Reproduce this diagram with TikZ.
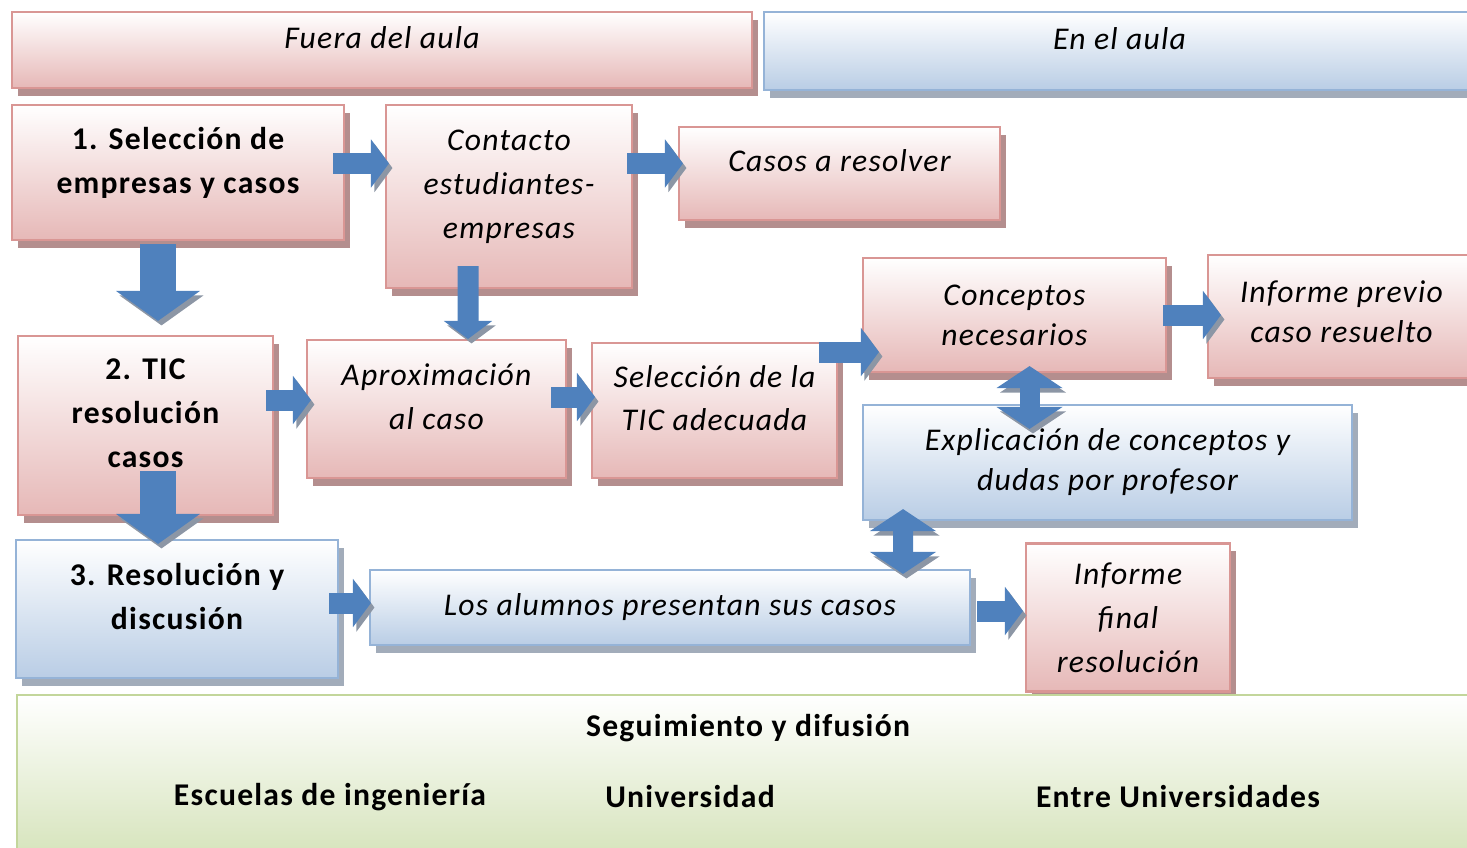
\documentclass[tikz,border=0pt]{standalone}
\usepackage{fontspec}
\setmainfont{Carlito}[LetterSpace=4]
\usetikzlibrary{arrows.meta,shadows}
\definecolor{rojoborde}{RGB}{217,150,148}
\definecolor{rojofondo}{RGB}{230,184,183}
\definecolor{rojosombra}{RGB}{180,142,142}
\definecolor{azulborde}{RGB}{149,179,215}
\definecolor{azulfondo}{RGB}{185,205,229}
\definecolor{azulsombra}{RGB}{162,172,186}
\definecolor{verdeborde}{RGB}{195,214,155}
\definecolor{verdefondo}{RGB}{213,227,186}
\definecolor{flechaazul}{RGB}{79,129,189}
\definecolor{flechasombra}{RGB}{140,150,165}
\tikzstyle{caja} = [rectangle, align=center, line width=1.2pt, inner sep=2pt, font=\fontsize{18}{25}\selectfont\itshape]
\tikzstyle{rosa} = [caja, draw=rojoborde, top color=white, bottom color=rojofondo, drop shadow={shadow xshift=0.12cm, shadow yshift=-0.15cm, fill=rojosombra, opacity=1}]
\tikzstyle{azul} = [caja, draw=azulborde, top color=white, bottom color=azulfondo, drop shadow={shadow xshift=0.12cm, shadow yshift=-0.15cm, fill=azulsombra, opacity=1}]
\tikzstyle{negrita} = [font=\fontsize{18}{25}\selectfont\bfseries]
\tikzstyle{junto} = [font=\fontsize{18}{22.7}\selectfont\itshape]
\tikzstyle{arriba} = [text depth=0.5cm]
\tikzstyle{sombra} = [preaction={draw=flechasombra, transform canvas={shift={(0.07cm,-0.09cm)}}}]
\tikzstyle{flecha} = [flechaazul, sombra, line width=0.42cm, -{Triangle[width=0.95cm,length=0.36cm]}]
\tikzstyle{flechagrande} = [flechaazul, sombra, line width=0.72cm, -{Triangle[width=1.65cm,length=0.6cm]}]
\tikzstyle{flechadoble} = [flechaazul, sombra, line width=0.4cm, {Triangle[width=1.3cm,length=0.44cm]}-{Triangle[width=1.3cm,length=0.44cm]}]
\begin{document}
\begin{tikzpicture}
	\useasboundingbox (0,0) rectangle (29.34,-16.94);
	% cabeceras
	\node[rosa, arriba, minimum width=14.8cm, minimum height=1.52cm] (fuera) at (7.64,-1.0) {Fuera del aula};
	\node[azul, arriba, minimum width=14.22cm, minimum height=1.56cm] (enaula) at (22.39,-1.02) {En el aula};
	% fila de arriba
	\node[rosa, negrita, arriba, minimum width=6.64cm, minimum height=2.7cm] (sel) at (3.56,-3.45) {1. Selección de\\empresas y casos};
	\node[rosa, arriba, minimum width=4.92cm, minimum height=3.66cm] (contacto) at (10.18,-3.93) {Contacto\\estudiantes-\\empresas};
	\node[rosa, arriba, minimum width=6.42cm, minimum height=1.86cm] (casos) at (16.79,-3.47) {Casos a resolver};
	\node[rosa, junto, minimum width=6.06cm, minimum height=2.28cm] (conceptos) at (20.29,-6.3) {Conceptos\\necesarios};
	\node[rosa, junto, text depth=0.2cm, minimum width=5.34cm, minimum height=2.46cm] (previo) at (26.83,-6.33) {Informe previo\\caso resuelto};
	% fila del medio
	\node[rosa, negrita, arriba, minimum width=5.1cm, minimum height=3.58cm] (tic) at (2.91,-8.51) {2. TIC\\resolución\\casos};
	\node[rosa, arriba, minimum width=5.18cm, minimum height=2.76cm] (aprox) at (8.73,-8.18) {Aproximación\\al caso};
	\node[rosa, arriba, minimum width=4.9cm, minimum height=2.7cm] (seltic) at (14.29,-8.21) {Selección de la\\TIC adecuada};
	\node[azul, junto, minimum width=9.78cm, minimum height=2.3cm] (explic) at (22.15,-9.25) {Explicación de conceptos y\\dudas por profesor};
	% fila de abajo
	\node[azul, negrita, arriba, minimum width=6.44cm, minimum height=2.76cm] (resol) at (3.54,-12.18) {3. Resolución y\\discusión};
	\node[azul, minimum width=12.0cm, minimum height=1.5cm] (alumnos) at (13.4,-12.15) {Los alumnos presentan sus casos};
	\node[rosa, minimum width=4.08cm, minimum height=2.96cm] (final) at (22.56,-12.35) {Informe\\final\\resolución};
	% seguimiento
	\node[caja, draw=verdeborde, top color=white, bottom color=verdefondo, minimum width=29.26cm, minimum height=3.3cm] (seguim) at (14.97,-15.55) {};
	\node[negrita] (difusion) at (14.96,-14.56) {Seguimiento y difusión};
	\node[negrita] (escuelas) at (6.6,-15.94) {Escuelas de ingeniería};
	\node[negrita] (univ) at (13.8,-15.94) {Universidad};
	\node[negrita] (entre) at (23.56,-15.94) {Entre Universidades};
	% flechas
	\draw[flecha] ([shift={(-0.24,0.18)}]sel.east) -- ([shift={(0.08,0.18)}]sel.east -| contacto.west);
	\draw[flecha] ([shift={(-0.12,0.2)}]casos.west -| contacto.east) -- ([shift={(0.1,0.2)}]casos.west);
	\draw[flechagrande] ([shift={(-0.4,-0.06)}]sel.south) -- ([shift={(-0.4,0.28)}]sel.south |- tic.north);
	\draw[flecha] ([shift={(-0.82,0.46)}]contacto.south) -- ([xshift=0.63cm]aprox.north);
	\draw[flecha] ([shift={(-0.16,0.18)}]aprox.west -| tic.east) -- ([shift={(0.1,0.18)}]aprox.west);
	\draw[flecha] ([shift={(-0.32,0.24)}]aprox.east) -- ([shift={(0.08,0.24)}]aprox.east -| seltic.west);
	\draw[flecha] ([shift={(-0.38,-0.74)}]conceptos.west -| seltic.east) -- ([shift={(0.34,-0.74)}]conceptos.west);
	\draw[flecha] ([xshift=-0.08cm]conceptos.east) -- ([xshift=0.28cm]conceptos.east -| previo.west);
	\draw[flechadoble] ([shift={(0.3,0.14)}]conceptos.south) -- ([shift={(0.3,-0.5)}]conceptos.south |- explic.north);
	\draw[flechadoble] ([shift={(-4.09,0.24)}]explic.south) -- ([shift={(4.66,-0.1)}]alumnos.north);
	\draw[flechagrande] ([shift={(0.25,0.9)}]tic.south) -- ([shift={(0.25,-0.1)}]tic.south |- resol.north);
	\draw[flecha] ([shift={(-0.2,0.12)}]resol.east) -- ([shift={(0.04,0.09)}]alumnos.west);
	\draw[flecha] ([shift={(0.12,-0.07)}]alumnos.east) -- ([shift={(-0.04,-0.07)}]alumnos.east -| final.west);
\end{tikzpicture}
\end{document}
